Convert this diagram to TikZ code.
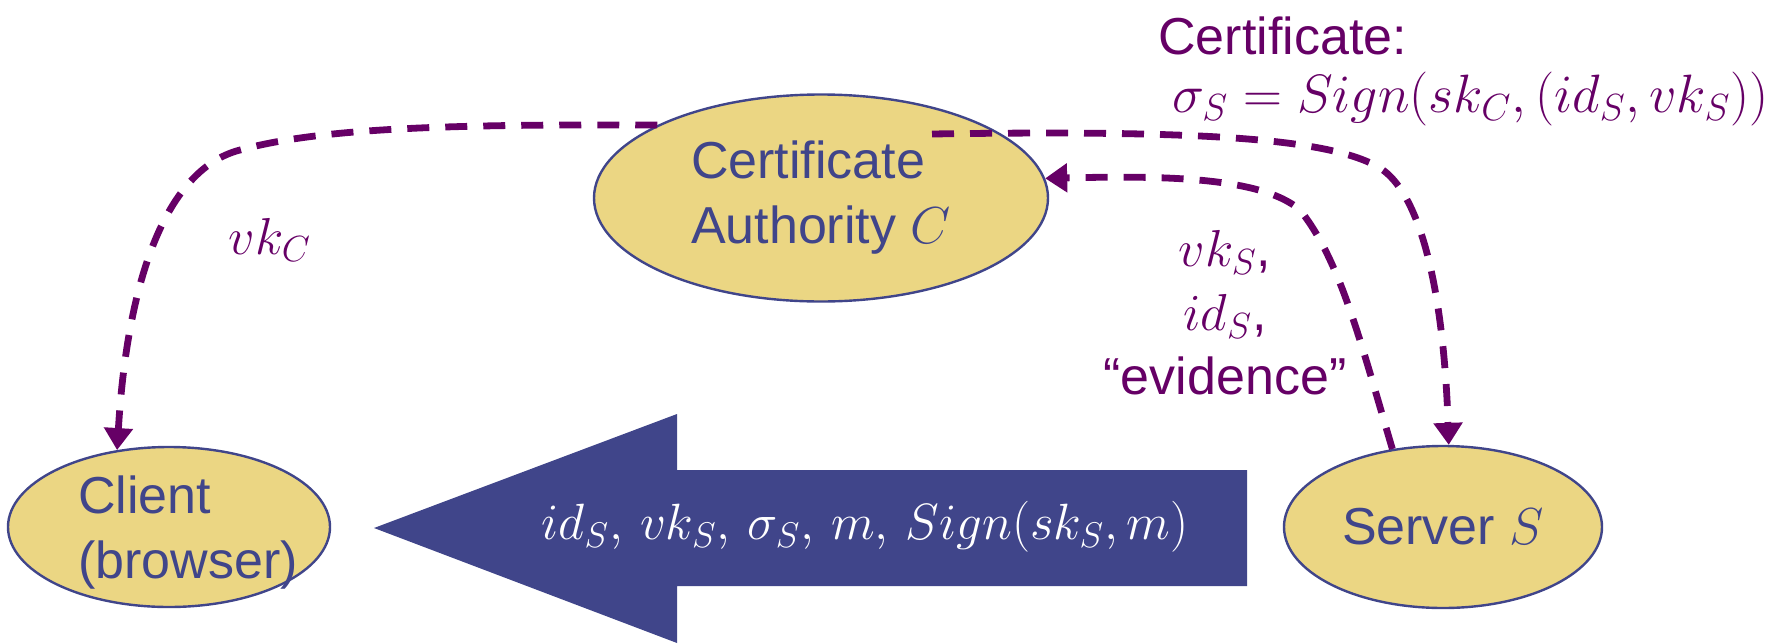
\RequirePackage{fix-cm}
\documentclass[tikz,border=0pt]{standalone}
\usepackage{fontspec}
\setmainfont{Liberation Sans}
\usetikzlibrary{shapes.geometric,arrows.meta}
\definecolor{cablue}{HTML}{40458A}
\definecolor{capurple}{HTML}{660066}
\definecolor{cayellow}{HTML}{EBD683}
\tikzset{
  party/.style={ellipse, draw=cablue, fill=cayellow, line width=1.2pt, inner sep=0pt,
    text=cablue, font=\fontsize{26}{32.5}\selectfont},
  flow/.style={capurple, line width=3.4pt, dash pattern=on 11pt off 8pt,
    -{Triangle[length=11pt,width=14pt]}},
  note/.style={text=capurple, inner sep=0pt, font=\fontsize{26}{32}\selectfont},
}
\begin{document}
\begin{tikzpicture}[x=0.5pt,y=-0.5pt]
    \useasboundingbox (0,0) rectangle (1777,643);
    % parties
    \node[party, minimum width=227pt, minimum height=103.5pt, align=left] (ca) at (821,198) {Certificate\\Authority $C$};
    \node[party, minimum width=161pt, minimum height=80pt] (client) at (169,527) {};
    \node[text=cablue, inner sep=0pt, align=left, font=\fontsize{26}{32.5}\selectfont] (clienttxt) at (188,533) {Client\\(browser)};
    \node[party, minimum width=159pt, minimum height=81pt] (server) at (1443,527) {Server $S$};
    % message from server to client
    \fill[cablue] (1247,470) -- (677,470) -- (677,414) -- (374,528) -- (677,643) -- (677,586) -- (1247,586) -- cycle;
    \node[text=white, font=\fontsize{25.5}{30}\selectfont] (msg) at (865,527) {$id_S,\, vk_S,\, \sigma_S,\, m,\, Sign(sk_S, m)$};
    % labels
    \node[note] (vkc) at (270,240) {$vk_C$};
    \node[note, align=center] (evid) at (1225,313) {$vk_S$,\\$id_S$,\\``evidence''};
    \node[note, anchor=base west] (certlbl) at (1158,54) {Certificate:};
    \node[note, anchor=base west, font=\fontsize{27}{32}\selectfont] (certeq) at (1172,112) {$\sigma_S = Sign(sk_C, (id_S, vk_S))$};
    % dashed flows
    \coordinate (certout) at (932,134);
    \draw[flow] (ca.156) .. controls (450,124) and (320,128) .. (240,150)
        .. controls (170,168) and (128,270) .. (client.124);
    \draw[flow] (certout) .. controls (1200,130) and (1330,138) .. (1380,168)
        .. controls (1430,200) and (1445,330) .. (server.86);
    \draw[flow] (server.123) .. controls (1360,340) and (1340,260) .. (1300,210)
        .. controls (1260,175) and (1150,176) .. (ca.5);
\end{tikzpicture}
\end{document}
